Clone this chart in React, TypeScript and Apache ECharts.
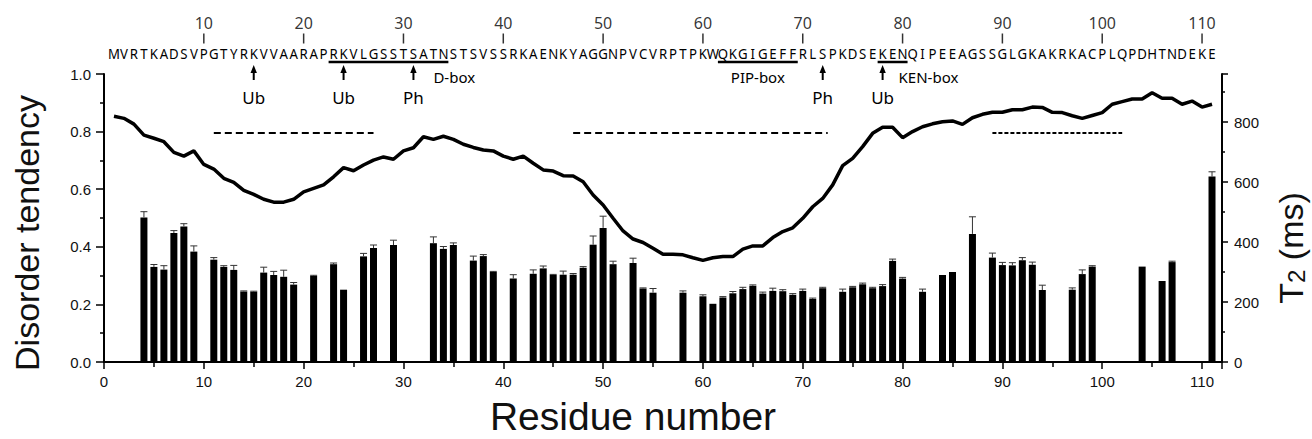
import React, { useEffect, useRef } from 'react';
import * as echarts from 'echarts';

// ---------------- DATA ----------------
const SEQUENCE =
  'MVRTKADSVPGTYRKVVAARAPRKVLGSSTSATNSTSVSSRKAENKYAGGNPVCVRPTPKWQKGIGEFFRLSPKDSEKENQIPEEAGSSGLGKAKRKACPLQPDHTNDEKE';

const X_TICK_LABELS = [0, 10, 20, 30, 40, 50, 60, 70, 80, 90, 100, 110];
const TOP_RESIDUE_TICKS = [10, 20, 30, 40, 50, 60, 70, 80, 90, 100, 110];
const LEFT_TICK_LABELS = ['0.0', '0.2', '0.4', '0.6', '0.8', '1.0'];
const RIGHT_TICK_LABELS = [0, 200, 400, 600, 800];

const MOTIF_NAMES = ['D-box', 'PIP-box', 'KEN-box'];
const MOTIF_START = [22.5, 61.5, 77.5];
const MOTIF_END = [34.5, 69.5, 80.5];

const PTM_SITES = [15, 24, 31, 72, 78];
const PTM_TYPES = ['Ub', 'Ub', 'Ph', 'Ph', 'Ub'];

// disorder tendency per residue (1..111)
const DISORDER = [
  0.853, 0.846, 0.826, 0.788, 0.777, 0.765, 0.728, 0.715, 0.733, 0.686,
  0.67, 0.638, 0.624, 0.596, 0.582, 0.565, 0.555, 0.555, 0.565, 0.591,
  0.603, 0.615, 0.643, 0.675, 0.664, 0.684, 0.701, 0.712, 0.704, 0.733,
  0.744, 0.782, 0.773, 0.784, 0.773, 0.756, 0.745, 0.736, 0.733, 0.715,
  0.704, 0.715, 0.69, 0.667, 0.663, 0.647, 0.646, 0.626, 0.58, 0.545,
  0.499, 0.455, 0.427, 0.415, 0.395, 0.374, 0.374, 0.372, 0.362, 0.353,
  0.362, 0.366, 0.366, 0.392, 0.403, 0.403, 0.432, 0.453, 0.466, 0.499,
  0.539, 0.568, 0.615, 0.682, 0.707, 0.748, 0.794, 0.815, 0.815, 0.779,
  0.8, 0.817, 0.827, 0.834, 0.837, 0.825, 0.848, 0.86, 0.867, 0.867,
  0.876, 0.876, 0.885, 0.884, 0.867, 0.866, 0.855, 0.846, 0.856, 0.866,
  0.895, 0.904, 0.913, 0.913, 0.935, 0.916, 0.916, 0.895, 0.906, 0.885,
  0.895,
];

const T2_RESIDUES = [
  4, 5, 6, 7, 8, 9, 11, 12, 13, 14, 15, 16, 17, 18, 19, 21, 23, 24, 26, 27,
  29, 33, 34, 35, 37, 38, 39, 41, 43, 44, 45, 46, 47, 48, 49, 50, 51, 53, 54, 55,
  58, 60, 61, 62, 63, 64, 65, 66, 67, 68, 69, 70, 71, 72, 74, 75, 76, 77, 78, 79,
  80, 82, 84, 85, 87, 89, 90, 91, 92, 93, 94, 97, 98, 99, 104, 106, 107, 111,
];
const T2_VALUES = [
  482, 317, 308, 430, 452, 368, 341, 317, 307, 235, 234, 298, 290, 284, 258, 287, 326, 241, 352, 380,
  390, 396, 377, 390, 338, 353, 300, 278, 294, 312, 290, 291, 291, 314, 391, 447, 326, 330, 245, 231,
  231, 219, 194, 215, 229, 243, 254, 228, 237, 236, 224, 237, 210, 246, 234, 249, 259, 246, 253, 337,
  278, 234, 290, 300, 427, 348, 323, 322, 339, 324, 240, 241, 293, 318, 318, 270, 333, 618,
];
const T2_ERRORS = [
  19, 8, 13, 8, 9, 19, 7, 4, 15, 2, 2, 18, 12, 22, 7, 2, 4, 0, 10, 10,
  16, 21, 8, 7, 15, 5, 2, 13, 13, 8, 2, 12, 4, 4, 29, 39, 10, 16, 2, 14,
  6, 5, 0, 3, 6, 6, 3, 5, 9, 5, 4, 6, 3, 3, 9, 3, 4, 3, 5, 6,
  4, 9, 0, 0, 57, 15, 9, 9, 9, 9, 16, 6, 14, 3, 0, 0, 3, 16,
];

const DASH_START = [11, 47, 89];
const DASH_END = [27, 72.5, 102];
const DASH_LEVEL = 0.795;

// ---------------- LAYOUT ----------------
const W = 1312;
const H = 439;
const G_LEFT = 104;
const G_RIGHT = 90;
const G_TOP = 74;
const G_BOTTOM = 77;
const ANN_HEIGHT = 110;

const ROW_TICK = 38.5;
const ROW_SEQ = 53.5;
const ROW_UNDERLINE = 62;
const ROW_MOTIF_LABEL = 76.5;
const ROW_ARROW_TIP = 65;
const ROW_ARROW_BASE = 80;
const ROW_PTM_LABEL = 97;

const MOTIF_LABEL_MODE = ['endLeft', 'center', 'endLeft'];
const MOTIF_LABEL_SHIFT = [-1.5, 0, -0.9];
const DASH_PATTERNS = [[7, 4], [7, 4], [4, 2]];

const AX_FONT = '"Liberation Sans", Arial, sans-serif';
const ANN_FONT = '"Noto Sans", "Open Sans", sans-serif';

export default function App() {
  const ref = useRef<HTMLDivElement>(null);

  useEffect(() => {
    if (!ref.current) return;
    const chart = echarts.init(ref.current, undefined, { renderer: 'svg' });

    const option: any = {
      animation: false,
      backgroundColor: '#ffffff',
      grid: [
        { left: G_LEFT, right: G_RIGHT, top: G_TOP, bottom: G_BOTTOM, containLabel: false, outerBoundsMode: 'none' },
        { left: G_LEFT, right: G_RIGHT, top: 0, height: ANN_HEIGHT, containLabel: false, outerBoundsMode: 'none' },
      ],
      xAxis: [
        {
          gridIndex: 0,
          type: 'value',
          min: 0,
          max: 112,
          interval: 10,
          name: 'Residue number',
          nameLocation: 'middle',
          nameGap: 36,
          nameTextStyle: { fontSize: 39, lineHeight: 36, fontFamily: AX_FONT, color: '#111', padding: [0, 60, 0, 0] },
          axisLine: { show: true, lineStyle: { color: '#000', width: 2 } },
          axisTick: { show: true, length: 7, lineStyle: { color: '#000', width: 1.5 } },
          minorTick: { show: true, splitNumber: 2, length: 5, lineStyle: { color: '#000', width: 1.5 } },
          splitLine: { show: false },
          axisLabel: {
            fontSize: 15,
            fontFamily: AX_FONT,
            color: '#111',
            margin: 12,
            formatter: (v: number) => (X_TICK_LABELS.includes(v) ? String(v) : ''),
          },
        },
        { gridIndex: 1, type: 'value', min: 0, max: 112, show: false },
      ],
      yAxis: [
        {
          gridIndex: 0,
          type: 'value',
          position: 'left',
          min: 0,
          max: 1,
          interval: 0.2,
          name: 'Disorder tendency',
          nameLocation: 'middle',
          nameRotate: 90,
          nameGap: 60,
          nameTextStyle: { fontSize: 34, fontFamily: AX_FONT, color: '#111', padding: [0, 30, 0, 0] },
          axisLine: { show: true, lineStyle: { color: '#000', width: 2 } },
          axisTick: { show: true, length: 8, lineStyle: { color: '#000', width: 1.5 } },
          minorTick: { show: true, splitNumber: 2, length: 4, lineStyle: { color: '#000', width: 1.5 } },
          splitLine: { show: false },
          axisLabel: {
            fontSize: 15,
            fontFamily: AX_FONT,
            color: '#111',
            margin: 13,
            formatter: (v: number) => {
              const s = v.toFixed(1);
              return LEFT_TICK_LABELS.includes(s) ? s : '';
            },
          },
        },
        {
          gridIndex: 0,
          type: 'value',
          position: 'right',
          min: 0,
          max: 960,
          interval: 200,
          name: 'T{sub|2} (ms)',
          nameLocation: 'middle',
          nameRotate: 90,
          nameGap: 52,
          nameTextStyle: {
            fontSize: 34,
            fontFamily: AX_FONT,
            color: '#111',
            padding: [0, 60, 0, 0],
            rich: {
              sub: { fontSize: 24, fontFamily: AX_FONT, color: '#111', verticalAlign: 'bottom', padding: [8, 0, 0, 0] },
            },
          },
          axisLine: { show: true, lineStyle: { color: '#000', width: 2 } },
          axisTick: { show: true, length: 6, lineStyle: { color: '#000', width: 1.5 } },
          minorTick: { show: true, splitNumber: 2, length: 3, lineStyle: { color: '#000', width: 1.5 } },
          splitLine: { show: false },
          axisLabel: {
            fontSize: 15,
            fontFamily: AX_FONT,
            color: '#111',
            margin: 12,
            formatter: (v: number) => (RIGHT_TICK_LABELS.includes(v) ? String(v) : ''),
          },
        },
        { gridIndex: 1, type: 'value', min: 0, max: ANN_HEIGHT, inverse: true, show: false },
      ],
      series: [
        {
          name: 'T2',
          type: 'bar',
          xAxisIndex: 0,
          yAxisIndex: 1,
          barWidth: 7,
          itemStyle: { color: '#000' },
          data: T2_RESIDUES.map((r, i) => [r, T2_VALUES[i]]),
          z: 2,
        },
        {
          name: 'T2 error',
          type: 'custom',
          xAxisIndex: 0,
          yAxisIndex: 1,
          z: 3,
          data: T2_RESIDUES.map((r, i) => [r, T2_VALUES[i], T2_ERRORS[i]]).filter((d) => d[2] > 0),
          renderItem: (params: any, api: any) => {
            const r = api.value(0);
            const v = api.value(1);
            const e = api.value(2);
            const b = api.coord([r, v]);
            const t = api.coord([r, v + e]);
            return {
              type: 'group',
              children: [
                { type: 'line', shape: { x1: b[0], y1: b[1], x2: t[0], y2: t[1] }, style: { stroke: '#333', lineWidth: 1 } },
                { type: 'line', shape: { x1: t[0] - 3.5, y1: t[1], x2: t[0] + 3.5, y2: t[1] }, style: { stroke: '#333', lineWidth: 1 } },
              ],
            };
          },
        },
        {
          name: 'Disorder',
          type: 'line',
          xAxisIndex: 0,
          yAxisIndex: 0,
          symbol: 'none',
          lineStyle: { color: '#000', width: 3.5 },
          data: DISORDER.map((d, i) => [i + 1, d]),
          z: 4,
        },
        {
          name: 'Ordered regions',
          type: 'custom',
          xAxisIndex: 0,
          yAxisIndex: 0,
          z: 4,
          data: DASH_START.map((s, i) => [s, DASH_END[i], DASH_LEVEL, i]),
          encode: { x: [0, 1], y: 2 },
          renderItem: (params: any, api: any) => {
            const a = api.coord([api.value(0), api.value(2)]);
            const b = api.coord([api.value(1), api.value(2)]);
            const idx = api.value(3);
            return {
              type: 'line',
              shape: { x1: a[0], y1: a[1], x2: b[0], y2: b[1] },
              style: { stroke: '#000', lineWidth: 2, lineDash: DASH_PATTERNS[idx] },
            };
          },
        },
        {
          name: 'Residue ticks',
          type: 'scatter',
          xAxisIndex: 1,
          yAxisIndex: 2,
          symbol: 'rect',
          symbolSize: [1.5, 10],
          itemStyle: { color: '#000' },
          data: TOP_RESIDUE_TICKS.map((n) => [n, ROW_TICK]),
          label: {
            show: true,
            position: 'top',
            distance: 3,
            fontSize: 16,
            fontFamily: ANN_FONT,
            color: '#000',
            formatter: (p: any) => String(p.value[0]),
          },
        },
        {
          name: 'Sequence',
          type: 'custom',
          xAxisIndex: 1,
          yAxisIndex: 2,
          data: SEQUENCE.split('').map((c, i) => [i + 1, i]),
          encode: { x: 0 },
          renderItem: (params: any, api: any) => {
            const r = api.value(0);
            const i = api.value(1);
            const p = api.coord([r, ROW_SEQ]);
            return {
              type: 'text',
              x: p[0],
              y: p[1],
              scaleX: 0.88,
              style: {
                text: SEQUENCE[i],
                fill: '#000',
                fontSize: 15,
                fontFamily: ANN_FONT,
                align: 'center',
                verticalAlign: 'middle',
              },
            };
          },
        },
        {
          name: 'Motifs',
          type: 'custom',
          xAxisIndex: 1,
          yAxisIndex: 2,
          data: MOTIF_NAMES.map((n, i) => [MOTIF_START[i], MOTIF_END[i], i]),
          encode: { x: [0, 1] },
          renderItem: (params: any, api: any) => {
            const s = api.value(0);
            const e = api.value(1);
            const i = api.value(2);
            const p1 = api.coord([s, ROW_UNDERLINE]);
            const p2 = api.coord([e, ROW_UNDERLINE]);
            const mode = MOTIF_LABEL_MODE[i];
            const lx = mode === 'center' ? (s + e) / 2 : e + MOTIF_LABEL_SHIFT[i];
            const lp = api.coord([lx, ROW_MOTIF_LABEL]);
            return {
              type: 'group',
              children: [
                { type: 'line', shape: { x1: p1[0], y1: p1[1], x2: p2[0], y2: p2[1] }, style: { stroke: '#000', lineWidth: 2.5 } },
                {
                  type: 'text',
                  x: lp[0],
                  y: lp[1],
                  style: {
                    text: MOTIF_NAMES[i],
                    fill: '#000',
                    fontSize: 15,
                    fontFamily: ANN_FONT,
                    align: mode === 'center' ? 'center' : 'left',
                    verticalAlign: 'middle',
                  },
                },
              ],
            };
          },
        },
        {
          name: 'PTM',
          type: 'custom',
          xAxisIndex: 1,
          yAxisIndex: 2,
          data: PTM_SITES.map((r, i) => [r, i]),
          encode: { x: 0 },
          renderItem: (params: any, api: any) => {
            const r = api.value(0);
            const i = api.value(1);
            const tip = api.coord([r, ROW_ARROW_TIP]);
            const base = api.coord([r, ROW_ARROW_BASE]);
            const lab = api.coord([r, ROW_PTM_LABEL]);
            return {
              type: 'group',
              children: [
                { type: 'line', shape: { x1: base[0], y1: base[1], x2: tip[0], y2: tip[1] + 6 }, style: { stroke: '#000', lineWidth: 2 } },
                {
                  type: 'polygon',
                  shape: { points: [[tip[0], tip[1]], [tip[0] - 3.2, tip[1] + 8], [tip[0] + 3.2, tip[1] + 8]] },
                  style: { fill: '#000' },
                },
                {
                  type: 'text',
                  x: lab[0],
                  y: lab[1],
                  style: {
                    text: PTM_TYPES[i],
                    fill: '#000',
                    fontSize: 17,
                    fontFamily: ANN_FONT,
                    align: 'center',
                    verticalAlign: 'middle',
                  },
                },
              ],
            };
          },
        },
      ],
    };

    chart.setOption(option);
    return () => chart.dispose();
  }, []);

  return (
    <div
      ref={ref}
      style={{ position: 'fixed', left: 0, top: 0, width: W, height: H, background: '#fff' }}
    />
  );
}
